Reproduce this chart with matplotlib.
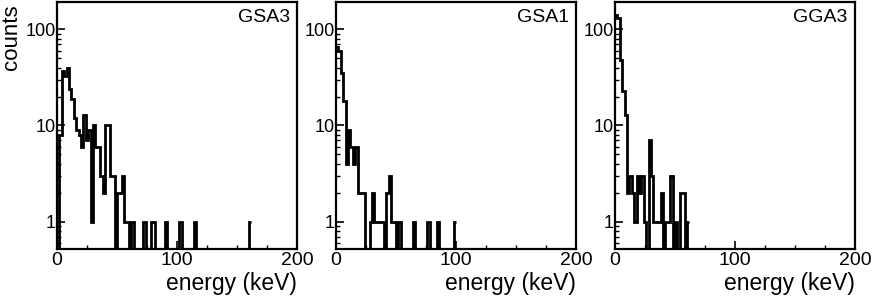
import numpy as np
import matplotlib
matplotlib.use('Agg')
import matplotlib.pyplot as plt
from matplotlib import ticker

plt.rcParams['font.family'] = ['Liberation Sans', 'DejaVu Sans']

################################
bin_width = 2.0  # keV per bin
names = ['GSA3', 'GSA1', 'GGA3']

# counts per 2 keV bin, starting at 0 keV
gsa3 = [0, 8, 37, 33, 40, 24, 19, 12, 9, 8, 6, 13, 7, 9, 1, 10, 6, 6, 3, 2,
        10, 10, 3, 3, 0, 2, 2, 3, 1, 1, 0, 1, 0, 0, 0, 0, 1, 0, 0, 1,
        1, 0, 0, 0, 0, 1, 0, 0, 0, 0, 0, 1, 0, 0, 0, 0, 0, 1, 0, 0,
        0, 0, 0, 0, 0, 0, 0, 0, 0, 0, 0, 0, 0, 0, 0, 0, 0, 0, 0, 0, 1]
gsa1 = [65, 60, 35, 18, 4, 9, 6, 4, 6, 2, 2, 2, 0, 0, 1, 2, 1, 1, 1, 1,
        0, 2, 3, 1, 1, 0, 1, 0, 0, 0, 0, 0, 1, 0, 0, 0, 0, 0, 1, 0,
        0, 0, 1, 0, 0, 0, 0, 0, 0, 1]
gga3 = [140, 130, 48, 23, 13, 2, 3, 2, 1, 3, 2, 3, 1, 0, 7, 3, 1, 1, 1, 2,
        0, 1, 1, 3, 0, 1, 0, 2, 2, 0, 1]

x_ticks = [0, 100, 200]
y_ticks = [1, 10, 100]
################################

fig = plt.figure(figsize=(8.73, 2.98), dpi=100)
lefts = [57, 336, 615]
W, H = 873.0, 298.0

for i, (name, counts) in enumerate(zip(names, [gsa3, gsa1, gga3])):
    ax = fig.add_axes([lefts[i] / W, (H - 249) / H, 240 / W, 247 / H])
    c = np.asarray(counts, dtype=float)
    edges = np.arange(len(c) + 1) * bin_width
    # empty bins drop to the floor of the log axis
    ax.stairs(np.where(c > 0, c, 1e-3), edges, color='black', lw=2.0,
              baseline=None)
    ax.set_yscale('log')
    ax.set_xlim(0, 200)
    ax.set_ylim(0.52, 192)
    ax.set_xticks(x_ticks)
    ax.xaxis.set_minor_locator(ticker.MultipleLocator(25))
    ax.yaxis.set_major_locator(ticker.FixedLocator(y_ticks))
    ax.yaxis.set_major_formatter(ticker.FuncFormatter(lambda v, p: f'{v:g}'))
    ax.yaxis.set_minor_locator(ticker.LogLocator(base=10, subs=np.arange(2, 10)))
    ax.yaxis.set_minor_formatter(ticker.NullFormatter())
    ax.tick_params(which='major', direction='in', length=6, width=1.2,
                   labelsize=14, pad=2)
    ax.tick_params(which='minor', direction='in', length=3, width=1.0)
    ax.tick_params(axis='y', pad=1, labelsize=13)
    for s in ax.spines.values():
        s.set_linewidth(1.6)
    ax.set_xlabel('energy (keV)', loc='right', fontsize=16.5, labelpad=2)
    if i == 0:
        ax.set_ylabel('counts', loc='top', fontsize=16)
        ax.yaxis.set_label_coords(-0.145, 0.99)
    ax.text(0.97, 0.97, name, transform=ax.transAxes, ha='right', va='top',
            fontsize=14)

fig.savefig('out.png', dpi=100)
